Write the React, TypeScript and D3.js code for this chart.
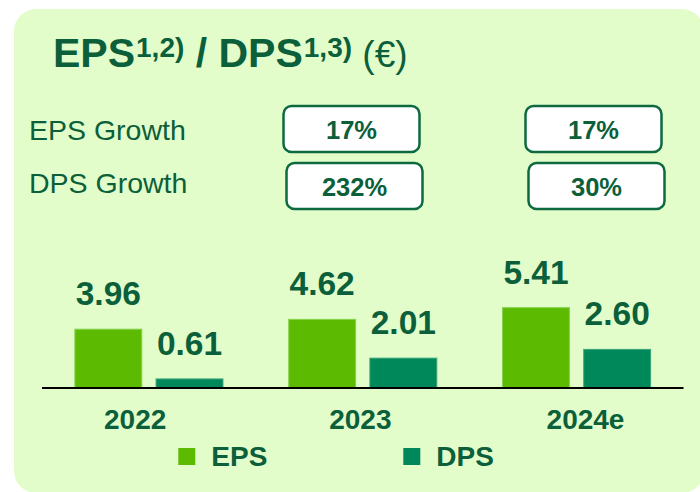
import React from "react";
import * as d3 from "d3";

const categories = ["2022", "2023", "2024e"];
const epsValues = [3.96, 4.62, 5.41];
const dpsValues = [0.61, 2.01, 2.6];
const epsGrowth = ["17%", "17%"];
const dpsGrowth = ["232%", "30%"];
const seriesNames = ["EPS", "DPS"];

const W = 700;
const H = 492;
const FONT = "'Liberation Sans', Arial, Helvetica, sans-serif";
const TEXT = "#0b5f3a";
const BOX = "#0d6a40";
const BG = "#e2fdca";
const EPS_COL = "#5cba00";
const DPS_COL = "#00875a";

export default function App() {
  const x0 = d3.scaleBand<string>().domain(categories).range([42, 683.5]).paddingInner(0).paddingOuter(0);
  const x1 = d3
    .scaleBand<string>()
    .domain(seriesNames)
    .range([0, x0.bandwidth()])
    .paddingInner(0.176)
    .paddingOuter(0.405);
  const baseY = 388;
  const y = d3.scaleLinear().domain([0, 1]).range([baseY, baseY - 14.85]);
  const xLabel = d3.scalePoint<string>().domain(categories).range([135.2, 585.5]);
  const boxX = d3.scalePoint<number>().domain([0, 1]).range([351.5, 593.5]);

  const series = [
    { name: "EPS", values: epsValues, color: EPS_COL, stroke: "#86d24e" },
    { name: "DPS", values: dpsValues, color: DPS_COL, stroke: "#3aa67a" },
  ];

  const growthRows = [
    { label: "EPS Growth", vals: epsGrowth, y: 106, dx: 0, baseline: 140 },
    { label: "DPS Growth", vals: dpsGrowth, y: 163, dx: 3, baseline: 193 },
  ];

  return (
    <svg
      width={W}
      height={H}
      style={{ position: "absolute", left: 0, top: 0 }}
      fontFamily={FONT}
    >
      <rect x={0} y={0} width={W} height={H} fill="#ffffff" />
      <rect x={14} y={9} width={690} height={484} rx={22} ry={22} fill={BG} />

      {/* Title */}
      <text x={53} y={67} fill={TEXT} fontSize={41} fontWeight="bold">
        EPS
        <tspan fontSize={28} dy={-10} dx={1}>1,2)</tspan>
        <tspan fontSize={41} dy={10}> / DPS</tspan>
        <tspan fontSize={28} dy={-10} dx={1}>1,3)</tspan>
        <tspan fontSize={37} fontWeight="normal" dy={10}> (€)</tspan>
      </text>

      {/* Growth rows */}
      {growthRows.map((row) => (
        <g key={row.label}>
          <text x={29} y={row.baseline} fill={TEXT} fontSize={28.5}>
            {row.label}
          </text>
          {row.vals.map((v, i) => {
            const cx = boxX(i)! + row.dx;
            return (
              <g key={i}>
                <rect
                  x={cx - 68}
                  y={row.y}
                  width={136}
                  height={46}
                  rx={8}
                  ry={8}
                  fill="#ffffff"
                  stroke={BOX}
                  strokeWidth={2.5}
                />
                <text
                  x={cx}
                  y={row.y + 33}
                  textAnchor="middle"
                  fill={TEXT}
                  fontSize={25.5}
                  fontWeight="bold"
                >
                  {v}
                </text>
              </g>
            );
          })}
        </g>
      ))}

      {/* Bars */}
      {categories.map((c, ci) => (
        <g key={c} transform={`translate(${x0(c)},0)`}>
          {series.map((s) => {
            const bx = x1(s.name)!;
            const bw = x1.bandwidth();
            const v = s.values[ci];
            const top = y(v);
            return (
              <g key={s.name}>
                <rect
                  x={bx}
                  y={top}
                  width={bw}
                  height={baseY - top}
                  fill={s.color}
                  stroke={s.stroke}
                  strokeWidth={1}
                />
                <text
                  x={bx + bw / 2}
                  y={top - 24}
                  textAnchor="middle"
                  fill={TEXT}
                  fontSize={33.5}
                  fontWeight="bold"
                >
                  {v.toFixed(2)}
                </text>
              </g>
            );
          })}
        </g>
      ))}

      {/* Axis line */}
      <line x1={42} x2={683.5} y1={baseY} y2={baseY} stroke="#000000" strokeWidth={2} />

      {/* Category labels */}
      {categories.map((c) => (
        <text
          key={c}
          x={xLabel(c)}
          y={428.5}
          textAnchor="middle"
          fill={TEXT}
          fontSize={28}
          fontWeight="bold"
        >
          {c}
        </text>
      ))}

      {/* Legend */}
      {series.map((s, i) => {
        const lx = i === 0 ? 178.3 : 403.3;
        return (
          <g key={s.name}>
            <rect x={lx} y={448} width={17} height={17} fill={s.color} />
            <text x={lx + 33} y={465.5} fill={TEXT} fontSize={28} fontWeight="bold">
              {s.name}
            </text>
          </g>
        );
      })}
    </svg>
  );
}
